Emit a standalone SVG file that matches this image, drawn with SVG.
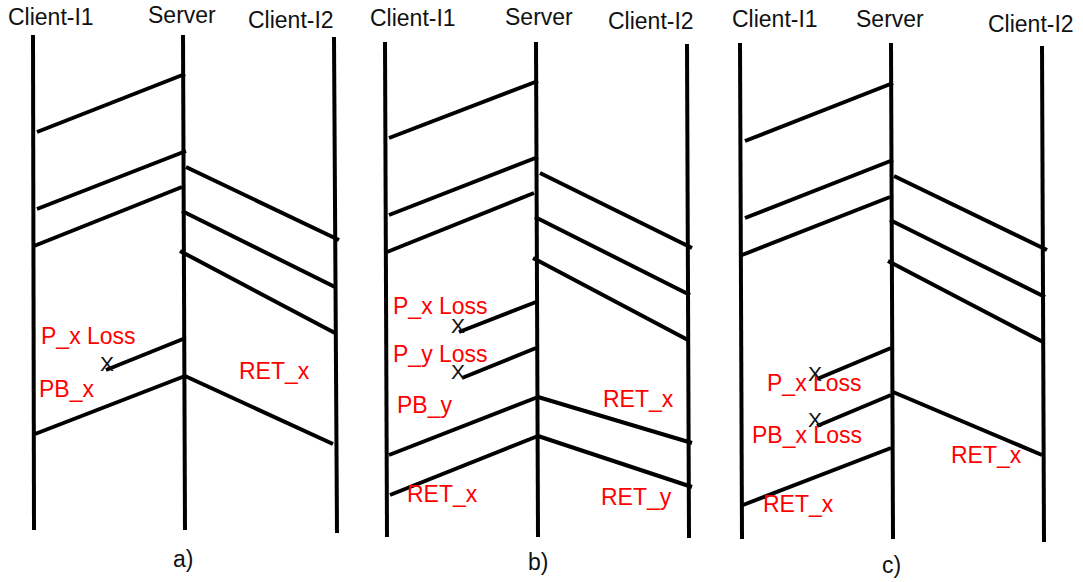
<svg xmlns="http://www.w3.org/2000/svg" width="1083" height="582" viewBox="0 0 1083 582">
<style>
text{font-family:"Liberation Sans",Arial,sans-serif;font-size:23px}
.hd{fill:#111}
.red{fill:#ff0000}
.xm{fill:#111;font-size:21px}
.life{stroke:#000;stroke-width:4;fill:none}
.msg{stroke:#000;stroke-width:4;fill:none}
</style>
<rect width="1083" height="582" fill="#fff"/>
<!-- Panel a -->
<g id="a-client1"><text class="hd" x="8" y="25">Client-I1</text><line class="life" x1="33" y1="35" x2="34" y2="530"/></g>
<g id="a-server"><text class="hd" x="148" y="23">Server</text><line class="life" x1="183" y1="35" x2="185" y2="530"/></g>
<g id="a-client2"><text class="hd" x="248" y="28">Client-I2</text><line class="life" x1="334" y1="37" x2="337" y2="533"/></g>
<!-- Panel b -->
<g id="b-client1"><text class="hd" x="370" y="26">Client-I1</text><line class="life" x1="385" y1="42" x2="387" y2="537"/></g>
<g id="b-server"><text class="hd" x="505" y="25">Server</text><line class="life" x1="536" y1="42" x2="538" y2="537"/></g>
<g id="b-client2"><text class="hd" x="608" y="29">Client-I2</text><line class="life" x1="687" y1="44" x2="689" y2="538"/></g>
<!-- Panel c -->
<g id="c-client1"><text class="hd" x="732" y="27">Client-I1</text><line class="life" x1="740" y1="43" x2="742" y2="539"/></g>
<g id="c-server"><text class="hd" x="856" y="27">Server</text><line class="life" x1="891" y1="43" x2="893" y2="539"/></g>
<g id="c-client2"><text class="hd" x="988" y="32">Client-I2</text><line class="life" x1="1042" y1="46" x2="1044" y2="542"/></g>
<g id="connectors">
<!-- a -->
<line class="msg" x1="185" y1="74" x2="37" y2="132"/>
<line class="msg" x1="186" y1="151" x2="37" y2="209"/>
<line class="msg" x1="182" y1="187" x2="34" y2="246"/>
<line class="msg" x1="186" y1="167" x2="339" y2="240"/>
<line class="msg" x1="182" y1="211" x2="335" y2="287"/>
<line class="msg" x1="180" y1="251" x2="335" y2="333"/>
<line class="msg" x1="183" y1="339" x2="106" y2="370"/>
<line class="msg" x1="185" y1="376" x2="35" y2="434"/>
<line class="msg" x1="185" y1="376" x2="333" y2="444"/>
<!-- b -->
<line class="msg" x1="538" y1="81" x2="389" y2="138"/>
<line class="msg" x1="538" y1="157" x2="389" y2="215"/>
<line class="msg" x1="534" y1="193" x2="387" y2="252"/>
<line class="msg" x1="540" y1="173" x2="692" y2="248"/>
<line class="msg" x1="535" y1="217" x2="690" y2="295"/>
<line class="msg" x1="533" y1="258" x2="688" y2="340"/>
<line class="msg" x1="536" y1="302" x2="459" y2="332"/>
<line class="msg" x1="536" y1="348" x2="462" y2="378"/>
<line class="msg" x1="538" y1="397" x2="389" y2="455"/>
<line class="msg" x1="538" y1="397" x2="692" y2="443"/>
<line class="msg" x1="538" y1="436" x2="390" y2="495"/>
<line class="msg" x1="538" y1="436" x2="692" y2="487"/>
<!-- c -->
<line class="msg" x1="893" y1="83" x2="745" y2="141"/>
<line class="msg" x1="893" y1="160" x2="745" y2="218"/>
<line class="msg" x1="890" y1="197" x2="742" y2="255"/>
<line class="msg" x1="894" y1="176" x2="1047" y2="250"/>
<line class="msg" x1="890" y1="220" x2="1045" y2="297"/>
<line class="msg" x1="888" y1="261" x2="1043" y2="342"/>
<line class="msg" x1="891" y1="348" x2="817" y2="379"/>
<line class="msg" x1="891" y1="395" x2="817" y2="426"/>
<line class="msg" x1="893" y1="392" x2="1042" y2="455"/>
<line class="msg" x1="891" y1="448" x2="743" y2="505"/>
</g>
<g id="labels">
<!-- a -->
<text class="red" x="41" y="344">P_x Loss</text>
<text class="xm" x="100" y="371">X</text>
<text class="red" x="39" y="397">PB_x</text>
<text class="red" x="239" y="379">RET_x</text>
<text class="hd" x="173" y="567">a)</text>
<!-- b -->
<text class="red" x="393" y="314">P_x Loss</text>
<text class="xm" x="451" y="333">X</text>
<text class="red" x="393" y="362">P_y Loss</text>
<text class="xm" x="451" y="379">X</text>
<text class="red" x="397" y="413">PB_y</text>
<text class="red" x="603" y="407">RET_x</text>
<text class="red" x="407" y="502">RET_x</text>
<text class="red" x="601" y="505">RET_y</text>
<text class="hd" x="528" y="570">b)</text>
<!-- c -->
<text class="red" x="767" y="391">P_x Loss</text>
<text class="xm" x="808" y="381">X</text>
<text class="red" x="752" y="443">PB_x Loss</text>
<text class="xm" x="808" y="427">X</text>
<text class="red" x="951" y="463">RET_x</text>
<text class="red" x="763" y="512">RET_x</text>
<text class="hd" x="882" y="573">c)</text>
</g>
</svg>
